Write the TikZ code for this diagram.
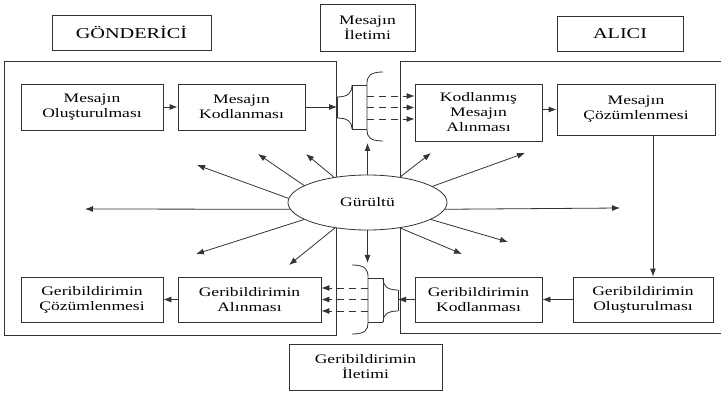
\documentclass[tikz,border=0pt]{standalone}
\usepackage{fontspec}
\setmainfont{Liberation Serif}[FakeStretch=1.35]
\usetikzlibrary{arrows.meta,shapes.geometric}

\tikzset{
  hat/.style={draw=black!80, line width=0.8pt},
  box/.style={hat, inner sep=0pt, align=center, font=\fontsize{13}{15}\selectfont},
  baslik/.style={box, font=\fontsize{15}{17}\selectfont},
  ok/.style={hat, -{Latex[length=8pt,width=6pt]}},
  kesik/.style={ok, dash pattern=on 7pt off 5pt},
}

% kanal (iletim) seklinin cizgileri
\newcommand{\kanal}{%
  \draw[hat] (337,97) -- (337,118);
  \draw[hat] (337,97) .. controls (348,97) and (352,93) .. (352,85);
  \draw[hat] (337,118) .. controls (348,118) and (352,122) .. (352,129);
  \draw[hat] (352,85) -- (352,129);
  \draw[hat] (352,85) -- (367,85);
  \draw[hat] (352,129) -- (367,129);
  \draw[hat] (383,72) .. controls (370,72) and (367,76) .. (367,84) -- (367,130)
    .. controls (367,137) and (370,141) .. (383,141);
}

\begin{document}
\begin{tikzpicture}[x=1pt,y=-1pt]
\useasboundingbox (0,0) rectangle (721,393);

% cerceveler
\draw[hat] (4,61) rectangle (336,335);
\draw[hat] (721,61) -- (400,61) -- (400,333) -- (721,333);

% basliklar
\node[baslik, minimum width=159pt, minimum height=35pt] (gonderici) at (131.5,32.5) {GÖNDERİCİ};
\node[box, minimum width=95pt, minimum height=47pt] (iletim) at (367.5,27.5) {Mesajın\\İletimi};
\node[baslik, minimum width=126pt, minimum height=35pt] (alici) at (620,33.5) {ALICI};

% gonderici tarafi
\node[box, minimum width=142pt, minimum height=46pt] (olus) at (92,107) {Mesajın\\Oluşturulması};
\node[box, minimum width=127pt, minimum height=46pt] (kodla) at (241.5,107) {Mesajın\\Kodlanması};
\node[box, minimum width=142pt, minimum height=45pt] (gcoz) at (92,299.5) {Geribildirimin\\Çözümlenmesi};
\node[box, minimum width=143pt, minimum height=45pt] (galin) at (249.5,299.5) {Geribildirimin\\Alınması};

% alici tarafi
\node[box, minimum width=127pt, minimum height=57pt] (kalin) at (478.5,112.5) {Kodlanmış\\Mesajın\\Alınması};
\node[box, minimum width=158pt, minimum height=51pt] (cozum) at (636,109.5) {Mesajın\\Çözümlenmesi};
\node[box, minimum width=127pt, minimum height=45pt] (gkod) at (478.5,299.5) {Geribildirimin\\Kodlanması};
\node[box, minimum width=140pt, minimum height=45pt] (golus) at (643,299.5) {Geribildirimin\\Oluşturulması};

\node[box, minimum width=153pt, minimum height=46pt] (giletim) at (365.5,367) {Geribildirimin\\İletimi};

% gurultu
\node[box, ellipse, fill=white, minimum width=159pt, minimum height=55pt] (gur) at (367.5,202.5) {Gürültü};

% kanallar
\kanal
\begin{scope}[shift={(735,193)}, xscale=-1]
\kanal
\end{scope}

% oklar
\coordinate (tb) at (337,107);
\coordinate (bb) at (398,299.5);
\coordinate (dn) at (653,0);
\draw[ok] (olus) -- (kodla);
\draw[ok] (kodla.east) -- (tb);
\draw[ok] (kalin.east |- cozum.west) -- (cozum.west);
\draw[ok] (cozum.south -| dn) -- (golus.north -| dn);
\draw[ok] (golus) -- (gkod);
\draw[ok] (gkod.west) -- (bb);
\draw[ok] (galin) -- (gcoz);

% kesik oklar
\foreach \y in {96,107.5,119} {
  \coordinate (k) at (367,\y);
  \draw[kesik] (k) -- (k -| kalin.west);
}
\foreach \y in {288,299.5,311} {
  \coordinate (k) at (368,\y);
  \draw[kesik] (k) -- (k -| galin.east);
}

% gurultu oklari
\foreach \a/\x/\y [count=\i] in {185/85/209, 177/197/165, 165/258/154, 143/306/154,
    90/367.5/143, 38/431/153, 14.5/525/153, 355.5/620/208, 345.5/508/242,
    322/462/254, 270/367.5/263, 218/289/265, 195/196/254} {
  \coordinate (nz\i) at (\x,\y);
  \draw[ok] (gur.\a) -- (nz\i);
}
\end{tikzpicture}
\end{document}
